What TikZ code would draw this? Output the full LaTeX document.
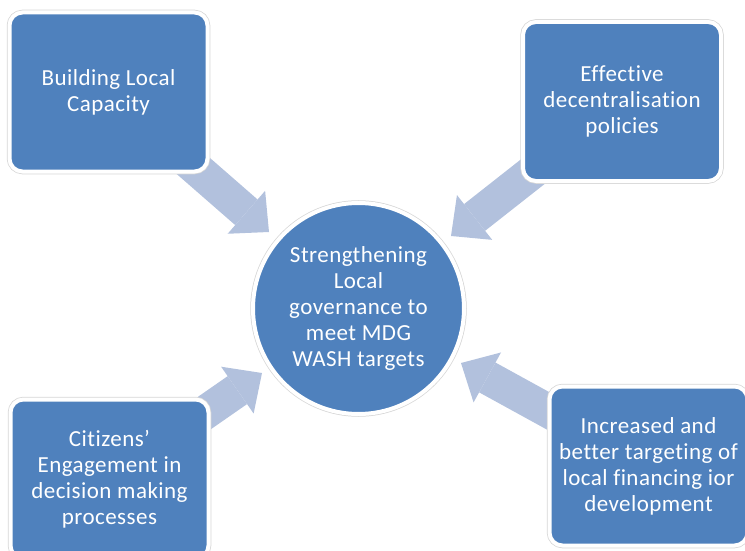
\documentclass[tikz,border=0pt]{standalone}
\usepackage{fontspec}
\setmainfont[Ligatures=NoCommon, LetterSpace=2]{Carlito}
\usetikzlibrary{arrows.meta, backgrounds}

\definecolor{boxblue}{RGB}{79,129,189}
\definecolor{arrowblue}{RGB}{178,193,221}

\tikzset{
  goalbox/.style={rectangle, rounded corners=13pt, fill=boxblue, draw=white, line width=4pt,
    preaction={draw=black!16, line width=5.5pt},
    minimum width=198pt, minimum height=159pt, inner sep=0pt,
    align=center, text=white, font=\fontsize{23}{26}\selectfont},
  hub/.style={circle, fill=boxblue, draw=white, line width=4pt,
    preaction={draw=black!16, line width=5.5pt},
    minimum size=211pt, inner sep=0pt,
    align=center, text=white, font=\fontsize{23}{26}\selectfont},
  feeder/.style={draw=arrowblue, line width=34pt,
    -{Triangle[length=30pt, width=57pt, line width=0pt]}}
}

\begin{document}
\begin{tikzpicture}[x=1pt, y=-1pt]
\useasboundingbox (0,0) rectangle (745,551);

\node[hub] (goal) at (358.5,308.5) {Strengthening\\Local\\governance to\\meet MDG\\WASH targets};

\node[goalbox] (capacity) at (108.5,92) {Building Local\\Capacity};
\node[goalbox] (policy) at (622,101.5) {Effective\\decentralisation\\policies};
\node[goalbox] (citizens) at (109.5,479) {Citizens’\\Engagement in\\decision making\\processes};
\node[goalbox] (finance) at (648.5,466) {Increased and\\better targeting of\\local financing ior\\development};

% arrow tips just short of the circle
\coordinate (tipA) at (269,232);
\coordinate (tipB) at (451,236);
\coordinate (tipC) at (262,373);
\coordinate (tipD) at (461,363);

\begin{scope}[on background layer]
\draw[feeder] (capacity.center) -- (tipA);
\draw[feeder] (policy.center) -- (tipB);
\draw[feeder] (citizens.center) -- (tipC);
\draw[feeder] (finance.center) -- (tipD);
\end{scope}
\end{tikzpicture}
\end{document}
